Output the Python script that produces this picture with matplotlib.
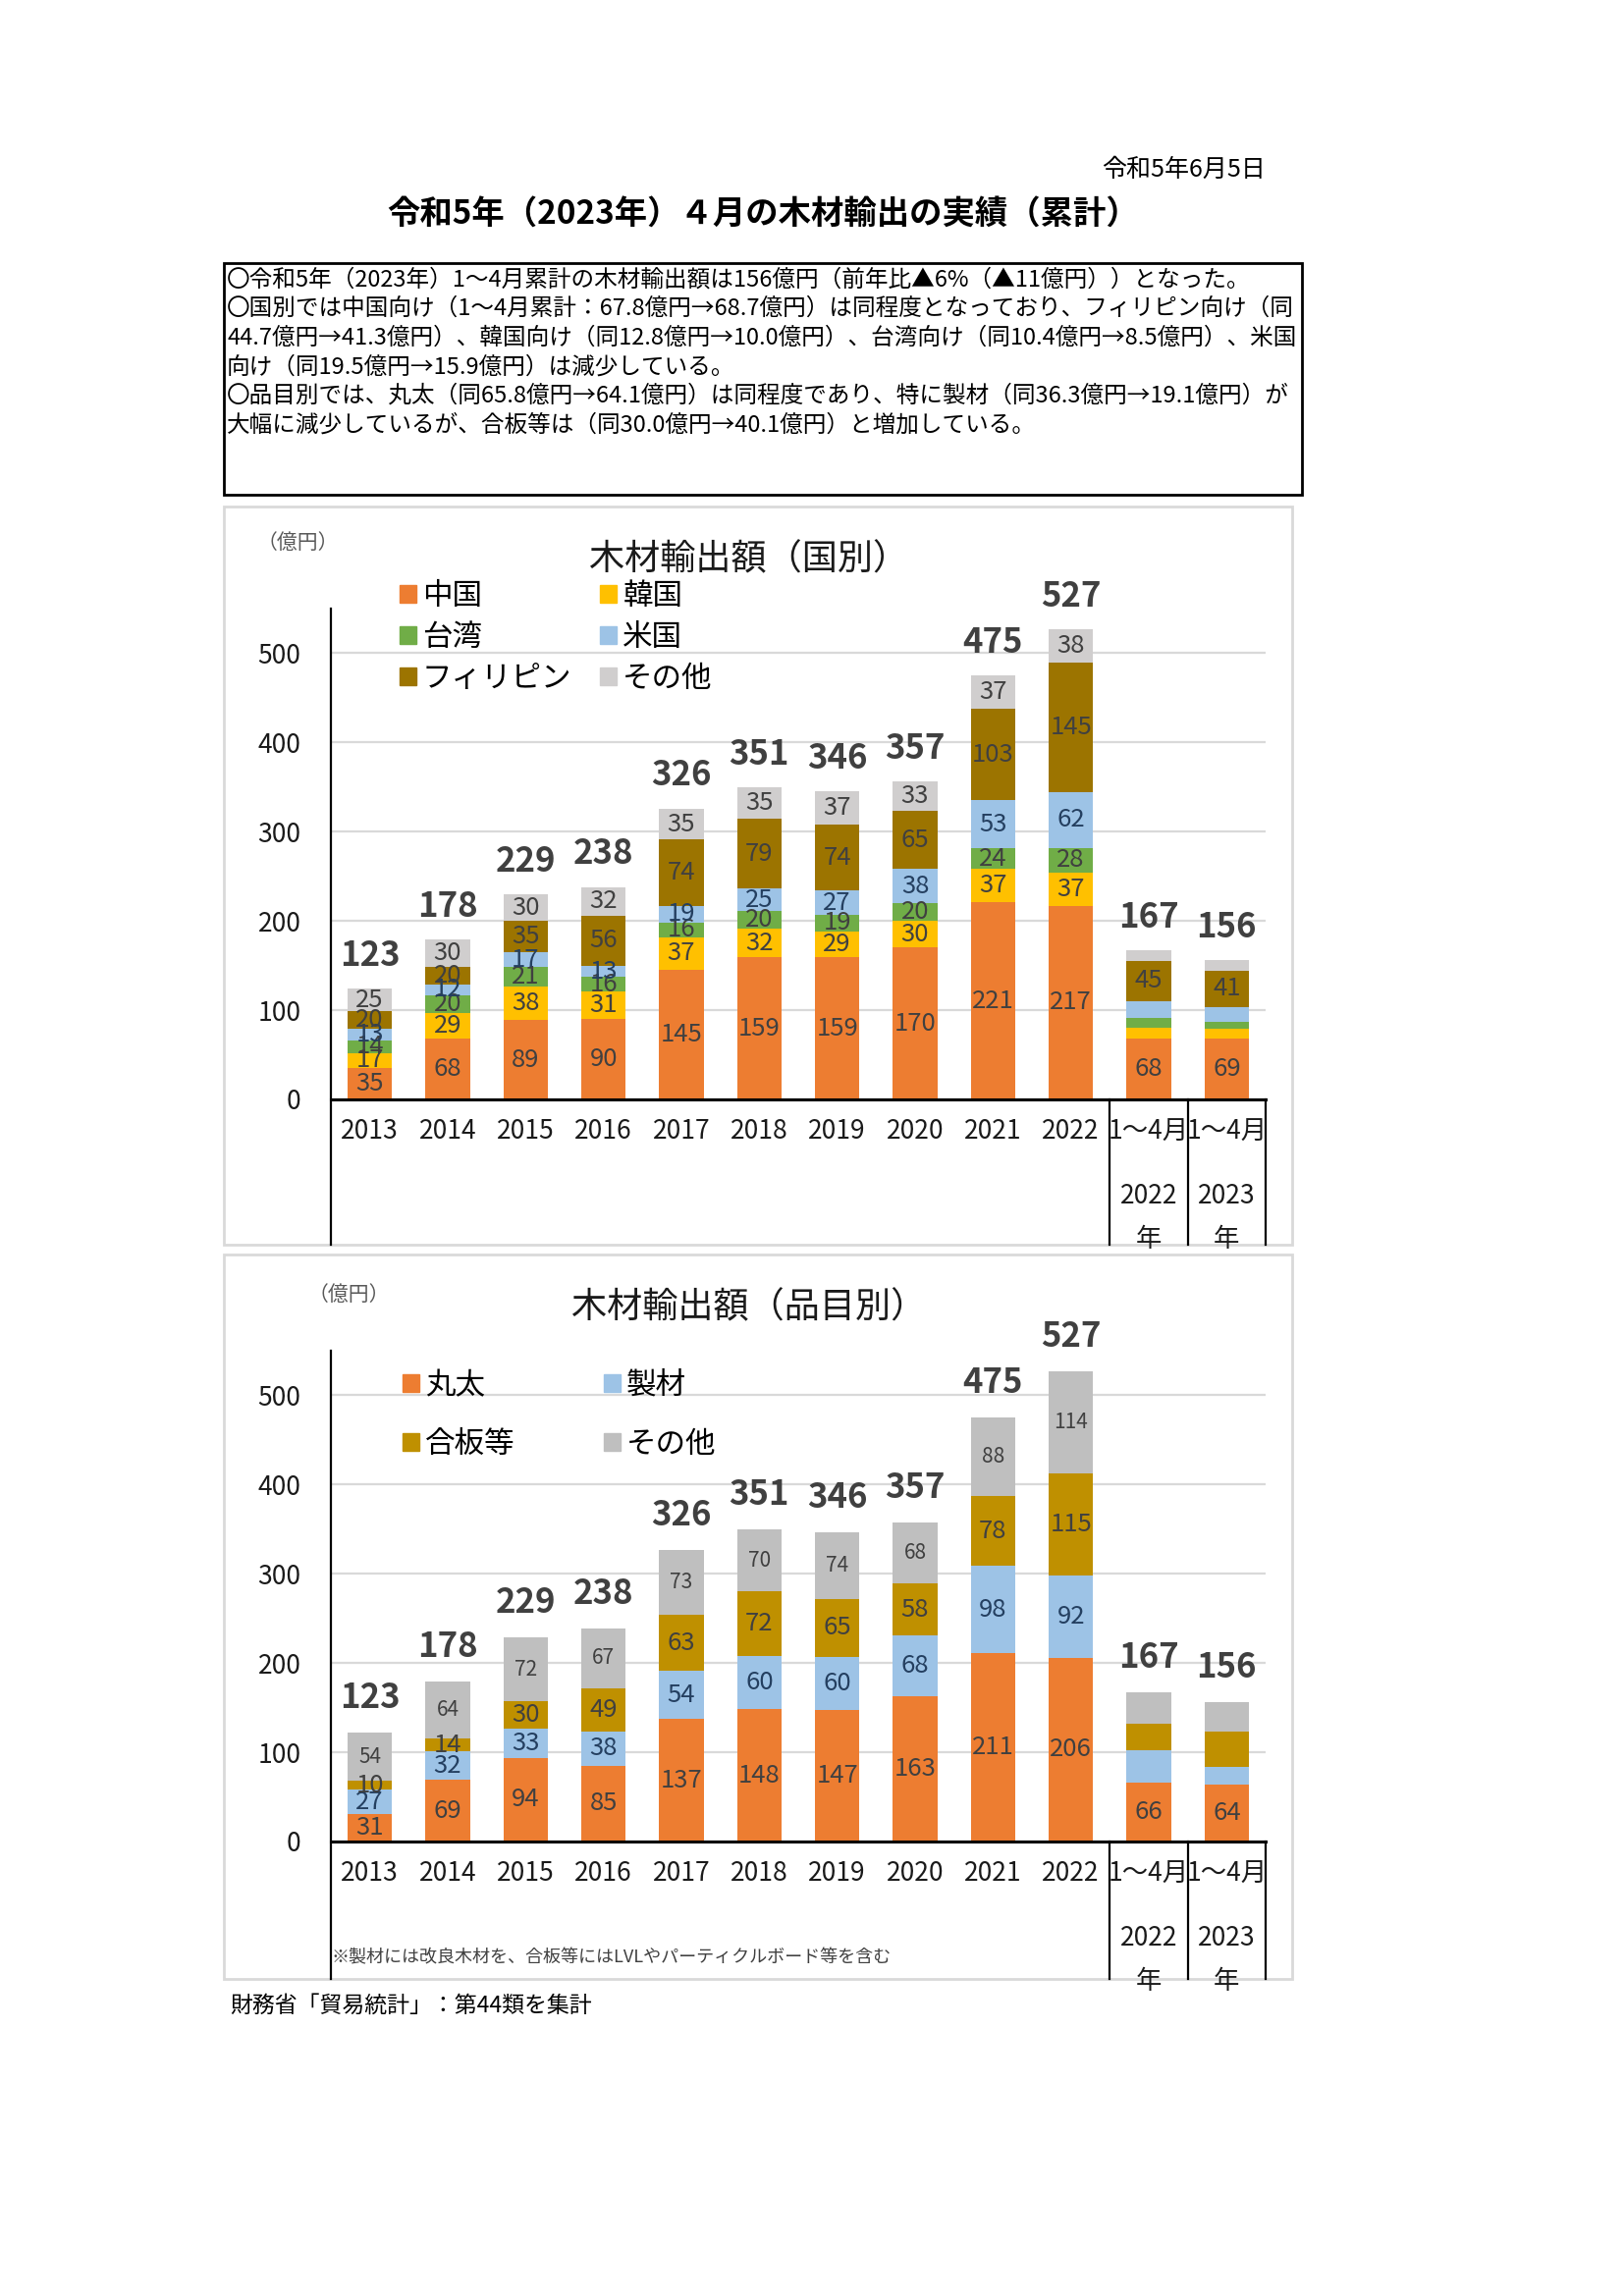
import matplotlib
matplotlib.use('Agg')
import matplotlib.pyplot as plt
import matplotlib.transforms as mtransforms
from matplotlib.patches import Rectangle, Patch
import numpy as np

plt.rcParams['font.family'] = ['Noto Sans CJK JP', 'DejaVu Sans']

W, H = 1654, 2339

# ---- data ----
categories = ['2013', '2014', '2015', '2016', '2017', '2018', '2019', '2020', '2021', '2022', '1～4月', '1～4月']
partial_years = ['2022', '2023']   # second label row for the 1~4 month columns

country_names = ['中国', '韓国', '台湾', '米国', 'フィリピン', 'その他']
china = [35, 68, 89, 90, 145, 159, 159, 170, 221, 217, 67.8, 68.7]
korea = [17, 29, 38, 31, 37, 32, 29, 30, 37, 37, 12.8, 10.0]
taiwan = [14, 20, 21, 16, 16, 20, 19, 20, 24, 28, 10.4, 8.5]
usa = [13, 12, 17, 13, 19, 25, 27, 38, 53, 62, 19.5, 15.9]
philippines = [20, 20, 35, 56, 74, 79, 74, 65, 103, 145, 44.7, 41.3]
other_country = [25, 30, 30, 32, 35, 35, 37, 33, 37, 38, 11.8, 11.6]
totals_country = [123, 178, 229, 238, 326, 351, 346, 357, 475, 527, 167, 156]

item_names = ['丸太', '製材', '合板等', 'その他']
maruta = [31, 69, 94, 85, 137, 148, 147, 163, 211, 206, 65.8, 64.1]
seizai = [27, 32, 33, 38, 54, 60, 60, 68, 98, 92, 36.3, 19.1]
gohan = [10, 14, 30, 49, 63, 72, 65, 58, 78, 115, 30.0, 40.1]
other_item = [54, 64, 72, 67, 73, 70, 74, 68, 88, 114, 34.9, 32.7]
totals_item = [123, 178, 229, 238, 326, 351, 346, 357, 475, 527, 167, 156]

summary_lines = [
    '〇令和5年（2023年）1～4月累計の木材輸出額は156億円（前年比▲6%（▲11億円））となった。',
    '〇国別では中国向け（1～4月累計：67.8億円→68.7億円）は同程度となっており、フィリピン向け（同',
    '44.7億円→41.3億円）、韓国向け（同12.8億円→10.0億円）、台湾向け（同10.4億円→8.5億円）、米国',
    '向け（同19.5億円→15.9億円）は減少している。',
    '〇品目別では、丸太（同65.8億円→64.1億円）は同程度であり、特に製材（同36.3億円→19.1億円）が',
    '大幅に減少しているが、合板等は（同30.0億円→40.1億円）と増加している。',
]

fig = plt.figure(figsize=(W / 100, H / 100), dpi=100)
page = fig.add_axes([0, 0, 1, 1])
page.set_xlim(0, W)
page.set_ylim(H, 0)
page.axis('off')

# header
page.text(1289, 173, '令和5年6月5日', ha='right', va='center', fontsize=18)
page.text(777, 219, '令和5年（2023年）４月の木材輸出の実績（累計）', ha='center', va='center',
          fontsize=24, fontweight='bold')
page.add_patch(Rectangle((228, 268), 1098, 236, fill=False, ec='black', lw=2))
for k, line in enumerate(summary_lines):
    page.text(231, 285 + k * 29.6, line, ha='left', va='center', fontsize=17)

page.text(234, 2043, '財務省「貿易統計」：第44類を集計', ha='left', va='center', fontsize=16.5)


def add_chart(frame_box, zero_px, title, title_y, unit_xy, series, names, colors,
              label_colors, label_sizes, show_partial, totals, legend_order,
              legend_anchor, legend_kw, total_off):
    fx0, fy0, fx1, fy1 = frame_box
    frame = Rectangle((fx0, fy0), fx1 - fx0, fy1 - fy0, fill=False, ec='#D9D9D9', lw=2)
    page.add_patch(frame)
    ax = fig.add_axes([337 / W, 1 - zero_px / H, (1289 - 337) / W, 500 / H])
    ax.set_xlim(-0.5, 11.5)
    ax.set_ylim(0, 550)
    for s in ax.spines.values():
        s.set_visible(False)
    ax.set_yticks(range(0, 600, 100))
    ax.yaxis.grid(True, color='#D9D9D9', lw=1.6)
    ax.set_axisbelow(True)
    ax.tick_params(length=0, labelsize=19, labelcolor='#1a1a1a')
    ax.tick_params(axis='y', pad=22)
    ax.tick_params(axis='x', pad=14)
    x = np.arange(len(categories))
    ax.set_xticks(x)
    ax.set_xticklabels(categories)

    bottom = np.zeros(len(categories))
    handles = []
    for vals, name, col, lc, fs, sp in zip(series, names, colors, label_colors, label_sizes, show_partial):
        vals = np.array(vals, float)
        ax.bar(x, vals, 0.57, bottom=bottom, color=col, zorder=3)
        handles.append(Patch(color=col, label=name))
        for i in x:
            if i >= 10 and not sp:
                continue
            ax.text(i, bottom[i] + vals[i] / 2, f'{vals[i]:.0f}', ha='center', va='center',
                    fontsize=fs, color=lc, zorder=4)
        bottom += vals
    for i, t in enumerate(totals):
        ax.text(i, bottom[i] + total_off, str(t), ha='center', va='center', fontsize=25,
                fontweight='bold', color='#404040', clip_on=False, zorder=5)

    # axis lines (y axis and category separators run down to the frame)
    ybot = -(fy1 - zero_px) * 550 / 500
    ax.plot([-0.5, -0.5], [550, ybot], color='black', lw=1.6, clip_on=False, zorder=6)
    for xs in [9.5, 10.5, 11.5]:
        ax.plot([xs, xs], [0, ybot], color='black', lw=1.6, clip_on=False, zorder=6)
    ax.plot([-0.5, 11.5], [0, 0], color='black', lw=2.2, clip_on=False, zorder=6)

    blend = mtransforms.blended_transform_factory(ax.transData, page.transData)
    for j, yr in enumerate(partial_years):
        for txt, ypx in [(yr, zero_px + 99), ('年', zero_px + 143)]:
            t = ax.text(10 + j, ypx, txt, transform=blend, ha='center', va='center',
                        fontsize=19, color='#1a1a1a')
            t.set_clip_path(frame)

    page.text(763, title_y, title, ha='center', va='center', fontsize=26, color='#1a1a1a')
    page.text(unit_xy[0], unit_xy[1], '（億円）', ha='center', va='center', fontsize=15, color='#595959')

    ax.legend(handles=[handles[k] for k in legend_order], loc='upper left',
              bbox_to_anchor=(legend_anchor[0] / W, 1 - legend_anchor[1] / H),
              bbox_transform=fig.transFigure, ncol=2, frameon=False, fontsize=22,
              handlelength=0.55, handleheight=0.55, handletextpad=0.2,
              borderpad=0, borderaxespad=0, **legend_kw)
    return ax


add_chart((228, 516, 1316, 1268), 1120, '木材輸出額（国別）', 570, (303, 553),
          [china, korea, taiwan, usa, philippines, other_country], country_names,
          ['#ED7D31', '#FFC000', '#70AD47', '#9DC3E6', '#9C7400', '#D0CECE'],
          ['#404040', '#404040', '#404040', '#243F60', '#404040', '#404040'],
          [18.5, 18.5, 18.5, 18.5, 18.5, 18.5],
          [True, False, False, False, True, False],
          totals_country, [0, 2, 4, 1, 3, 5], (407, 592),
          dict(columnspacing=0.95, labelspacing=0.36), 37)

add_chart((228, 1278, 1316, 2016), 1876, '木材輸出額（品目別）', 1332, (355, 1319),
          [maruta, seizai, gohan, other_item], item_names,
          ['#ED7D31', '#9DC3E6', '#BF9000', '#BFBFBF'],
          ['#404040', '#243F60', '#404040', '#404040'],
          [18.5, 18.5, 18.5, 15],
          [True, False, False, False],
          totals_item, [0, 2, 1, 3], (410, 1396),
          dict(columnspacing=2.97, labelspacing=0.95), 39)

page.text(337, 1994, '※製材には改良木材を、合板等にはLVLやパーティクルボード等を含む',
          ha='left', va='center', fontsize=13, color='#404040')

fig.savefig('out.png', dpi=100)
